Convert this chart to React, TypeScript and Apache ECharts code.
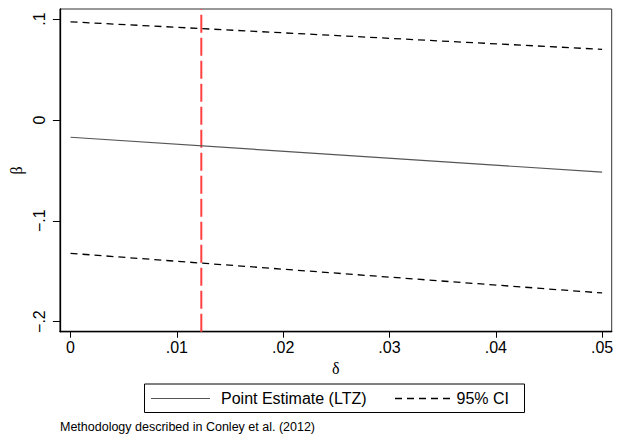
import React, { useEffect, useRef } from "react";
import * as echarts from "echarts";

const deltaValues = [0, 0.05];
const pointEstimate = [-0.0172, -0.0518];
const upperCI = [0.0973, 0.070];
const lowerCI = [-0.1323, -0.1716];
const cutoffDelta = 0.0123;
const xTicks = [0, 0.01, 0.02, 0.03, 0.04, 0.05];
const yTicks = [-0.2, -0.1, 0, 0.1];
const yRange = [-0.21, 0.11];
const xRange = [-0.001, 0.0509];
const legendLabels = ["Point Estimate (LTZ)", "95% CI"];
const footnote = "Methodology described in Conley et al. (2012)";

const stataFmt = (v: number) => {
  if (Math.abs(v) < 1e-12) return "0";
  const s = String(Number(v.toFixed(4)));
  return s.replace("0.", ".").replace("-", "\u2212");
};

export default function App() {
  const ref = useRef<HTMLDivElement>(null);
  useEffect(() => {
    if (!ref.current) return;
    const chart = echarts.init(ref.current, null, { renderer: "svg" });
    const sans = "'Liberation Sans', Arial, sans-serif";
    const serif = "'Liberation Serif', 'Times New Roman', serif";
    const mk = (ys: number[]) => deltaValues.map((x, i) => [x, ys[i]]);
    chart.setOption({
      animation: false,
      backgroundColor: "#ffffff",
      grid: {
        left: 57,
        top: 9,
        right: 12.3,
        bottom: 107.3,
        show: true,
        borderColor: "#333",
        borderWidth: 1,
        backgroundColor: "#fff",
      },
      xAxis: {
        type: "value",
        min: xRange[0],
        max: xRange[1],
        name: "δ",
        nameLocation: "middle",
        nameGap: 26,
        nameTextStyle: { fontFamily: serif, fontSize: 16, color: "#000" },
        axisLine: { show: true, onZero: false, lineStyle: { color: "#000", width: 1.3 } },
        axisTick: { show: true, length: 6, customValues: xTicks, lineStyle: { color: "#000", width: 1 } },
        axisLabel: {
          customValues: xTicks,
          formatter: stataFmt,
          fontFamily: sans,
          fontSize: 16,
          color: "#000",
          margin: 8,
        },
        splitLine: { show: false },
      },
      yAxis: {
        type: "value",
        min: yRange[0],
        max: yRange[1],
        name: "β",
        nameLocation: "middle",
        nameRotate: 90,
        nameGap: 31,
        nameTextStyle: { fontFamily: serif, fontSize: 16, color: "#000" },
        axisLine: { show: true, onZero: false, lineStyle: { color: "#000", width: 1.3 } },
        axisTick: { show: true, length: 7, customValues: yTicks, lineStyle: { color: "#000", width: 1 } },
        axisLabel: {
          customValues: yTicks,
          formatter: stataFmt,
          rotate: 90,
          fontFamily: sans,
          fontSize: 16,
          color: "#000",
          margin: 12,
        },
        splitLine: { show: false },
      },
      series: [
        {
          name: "cutoff",
          type: "line",
          data: [
            [cutoffDelta, yRange[0]],
            [cutoffDelta, yRange[1]],
          ],
          symbol: "none",
          silent: true,
          z: 1,
          lineStyle: { color: "#ff4040", width: 2, type: [18, 5] },
        },
        {
          name: legendLabels[0],
          type: "line",
          data: mk(pointEstimate),
          symbol: "none",
          z: 3,
          lineStyle: { color: "#555", width: 1.2 },
        },
        {
          name: legendLabels[1],
          type: "line",
          data: mk(upperCI),
          symbol: "none",
          z: 3,
          lineStyle: { color: "#000", width: 1.3, type: [7, 5] },
        },
        {
          name: legendLabels[1],
          type: "line",
          data: mk(lowerCI),
          symbol: "none",
          z: 3,
          lineStyle: { color: "#000", width: 1.3, type: [7, 5] },
        },
      ],
      graphic: [
        {
          type: "rect",
          shape: { x: 144.5, y: 384, width: 380, height: 28.5 },
          style: { fill: "#fff", stroke: "#000", lineWidth: 1 },
        },
        {
          type: "line",
          shape: { x1: 151, y1: 398.5, x2: 210, y2: 398.5 },
          style: { stroke: "#555", lineWidth: 1.2 },
        },
        {
          type: "text",
          x: 221,
          y: 398.5,
          style: { text: legendLabels[0], font: `16px ${sans}`, fill: "#000", verticalAlign: "middle" },
        },
        {
          type: "line",
          shape: { x1: 395, y1: 398.5, x2: 454, y2: 398.5 },
          style: { stroke: "#000", lineWidth: 1.3, lineDash: [7, 5] },
        },
        {
          type: "text",
          x: 456.5,
          y: 398.5,
          style: { text: legendLabels[1], font: `16px ${sans}`, fill: "#000", verticalAlign: "middle" },
        },
        {
          type: "text",
          x: 60,
          y: 427,
          style: { text: footnote, font: `12.5px ${sans}`, fill: "#000", verticalAlign: "middle" },
        },
      ],
    });
    return () => chart.dispose();
  }, []);
  return (
    <div
      ref={ref}
      style={{ position: "fixed", left: 0, top: 0, width: 624, height: 439 }}
    />
  );
}
